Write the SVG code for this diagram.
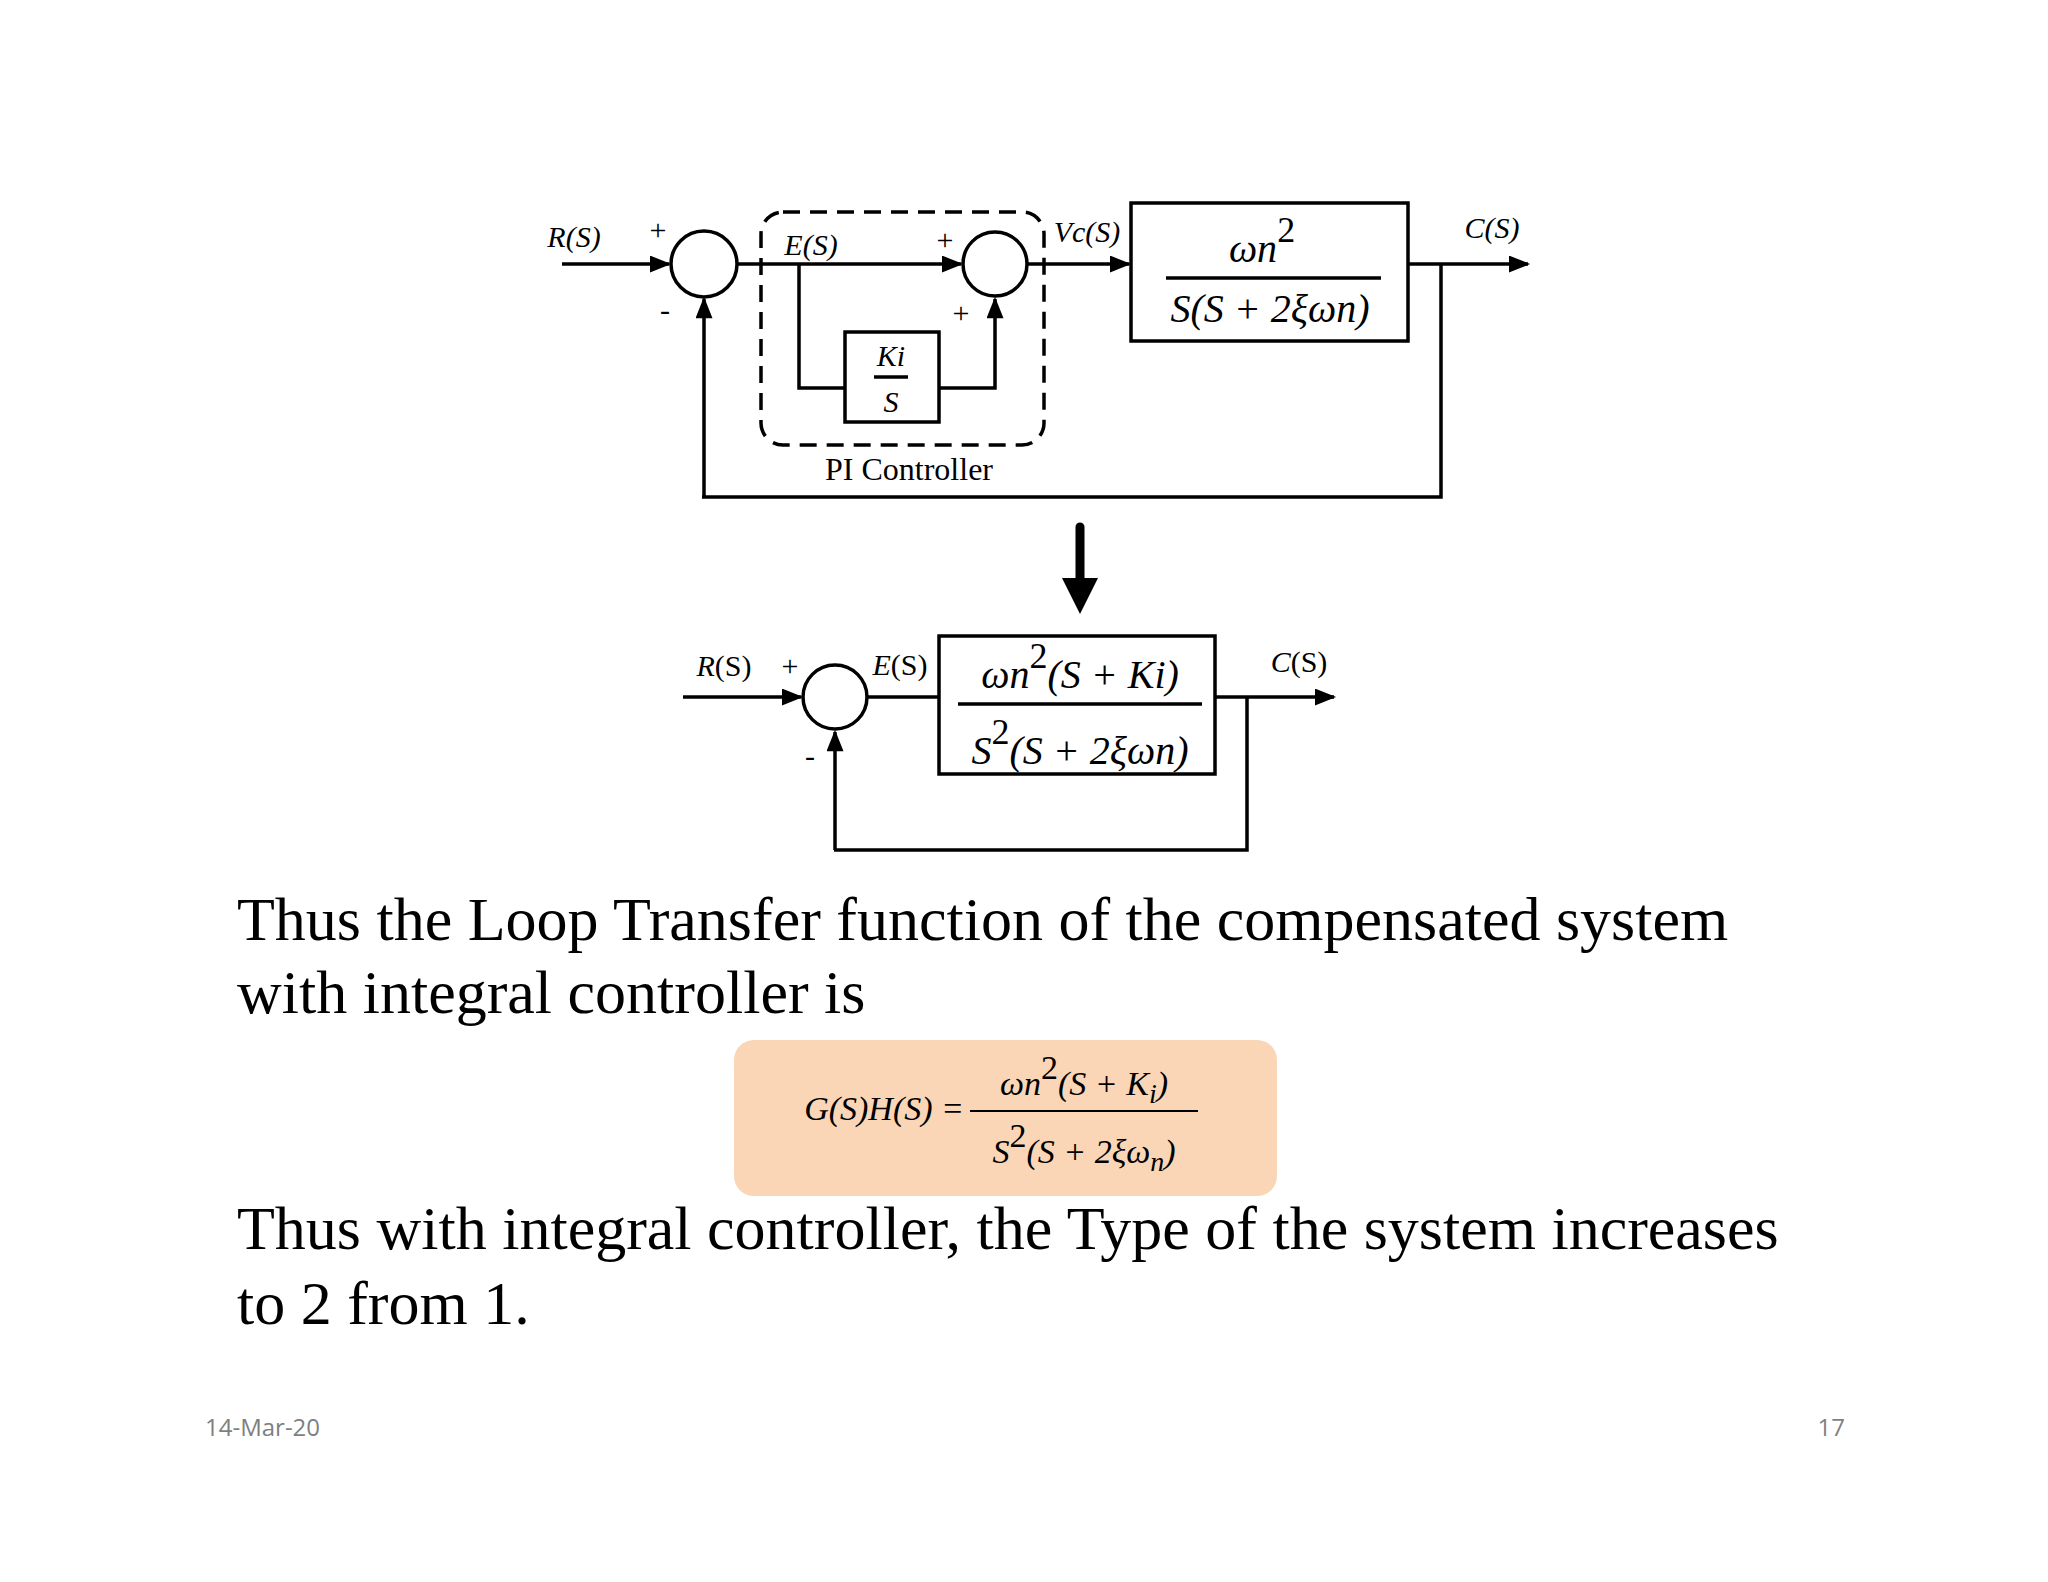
<svg xmlns="http://www.w3.org/2000/svg" width="2048" height="1582" viewBox="0 0 2048 1582">
<defs>
<marker id="ah2" viewBox="0 0 10 8" refX="9" refY="4" markerWidth="22" markerHeight="17" orient="auto" markerUnits="userSpaceOnUse"><path d="M0,0 L10,4 L0,8 z" fill="#000"/></marker>
</defs>
<style>
.l{stroke:#000;stroke-width:3.5;fill:none}
.b{stroke:#000;stroke-width:3.5;fill:#fff}
.t{font-family:"Liberation Serif","Times New Roman",serif;fill:#000}
.i{font-style:italic}
.body{font-family:"Liberation Serif","Times New Roman",serif;font-size:62px;fill:#000}
.ft{font-family:"Open Sans","Liberation Sans",sans-serif;font-size:24px;fill:#7f7f7f}
</style>
<rect width="2048" height="1582" fill="#fff"/>
<g id="connectors">
<line class="l" x1="562" y1="264" x2="669" y2="264" marker-end="url(#ah2)"/>
<line class="l" x1="737" y1="264" x2="961" y2="264" marker-end="url(#ah2)"/>
<polyline class="l" points="799,264 799,388 845,388"/>
<polyline class="l" points="939,388 995,388 995,299" marker-end="url(#ah2)"/>
<line class="l" x1="1027" y1="264" x2="1129" y2="264" marker-end="url(#ah2)"/>
<line class="l" x1="1408" y1="264" x2="1528" y2="264" marker-end="url(#ah2)"/>
<polyline class="l" points="1441,264 1441,497 702,497"/>
<line class="l" x1="704" y1="497" x2="704" y2="299" marker-end="url(#ah2)"/>
<line stroke="#000" stroke-width="9" stroke-linecap="round" x1="1080" y1="527" x2="1080" y2="590"/>
<path d="M1062,578 L1098,578 L1080,614 z" fill="#000"/>
<line class="l" x1="683" y1="697" x2="801" y2="697" marker-end="url(#ah2)"/>
<line class="l" x1="867" y1="697" x2="939" y2="697"/>
<line class="l" x1="1215" y1="697" x2="1334" y2="697" marker-end="url(#ah2)"/>
<polyline class="l" points="1247,697 1247,850 834,850"/>
<line class="l" x1="835" y1="850" x2="835" y2="732" marker-end="url(#ah2)"/>
</g>
<g id="pi-box"><rect x="761" y="212" width="283" height="233" rx="22" fill="none" stroke="#000" stroke-width="3.5" stroke-dasharray="17,10"/>
<text class="t" x="909" y="480" font-size="32" text-anchor="middle">PI Controller</text></g>
<g id="sum1"><circle class="b" cx="704" cy="264" r="33"/></g>
<g id="sum2"><circle class="b" cx="995" cy="264" r="32"/></g>
<g id="ki"><rect class="b" x="845" y="332" width="94" height="90"/>
<text class="t i" x="891" y="366" font-size="30" text-anchor="middle">Ki</text>
<line class="l" x1="874" y1="377" x2="908" y2="377" stroke-width="2"/>
<text class="t i" x="891" y="412" font-size="30" text-anchor="middle">S</text></g>
<g id="plant"><rect class="b" x="1131" y="203" width="277" height="138"/>
<text class="t i" x="1262" y="262" font-size="40" text-anchor="middle">ωn<tspan dy="-20" font-size="36" font-style="normal">2</tspan></text>
<line class="l" x1="1166" y1="278" x2="1381" y2="278" stroke-width="2"/>
<text class="t i" x="1270" y="322" font-size="40" text-anchor="middle">S(S + 2ξωn)</text></g>
<g id="labels1" class="t i" font-size="30">
<text x="574" y="247" text-anchor="middle">R(S)</text>
<text x="658" y="240" text-anchor="middle" font-style="normal">+</text>
<text x="665" y="320" text-anchor="middle" font-style="normal">-</text>
<text x="811" y="255" text-anchor="middle">E(S)</text>
<text x="945" y="250" text-anchor="middle" font-style="normal">+</text>
<text x="961" y="323" text-anchor="middle" font-style="normal">+</text>
<text x="1087" y="242" text-anchor="middle">Vc(S)</text>
<text x="1492" y="238" text-anchor="middle">C(S)</text>
</g>
<g id="sum3"><circle class="b" cx="835" cy="697" r="32"/></g>
<g id="g2"><rect class="b" x="939" y="636" width="276" height="138"/>
<text class="t i" x="1080" y="688" font-size="40" text-anchor="middle">ωn<tspan dy="-20" font-size="36" font-style="normal">2</tspan><tspan dy="20">(S + Ki)</tspan></text>
<line class="l" x1="958" y1="704" x2="1202" y2="704" stroke-width="2"/>
<text class="t i" x="1080" y="764" font-size="40" text-anchor="middle">S<tspan dy="-20" font-size="36" font-style="normal">2</tspan><tspan dy="20">(S + 2ξωn)</tspan></text></g>
<g id="labels2" class="t" font-size="30">
<text x="724" y="676" text-anchor="middle"><tspan font-style="italic">R</tspan>(S)</text>
<text x="790" y="676" text-anchor="middle">+</text>
<text x="810" y="766" text-anchor="middle">-</text>
<text x="900" y="675" text-anchor="middle"><tspan font-style="italic">E</tspan>(S)</text>
<text x="1299" y="672" text-anchor="middle"><tspan font-style="italic">C</tspan>(S)</text>
</g>
<text class="body" x="237" y="940">Thus the Loop Transfer function of the compensated system</text>
<text class="body" x="237" y="1013">with integral controller is</text>
<g id="formula"><rect x="734" y="1040" width="543" height="156" rx="20" fill="#fad6b6"/>
<text class="t i" x="964" y="1120" font-size="34" text-anchor="end">G(S)H(S) =</text>
<line stroke="#000" stroke-width="2" x1="970" y1="1111" x2="1198" y2="1111"/>
<text class="t i" x="1084" y="1095" font-size="34" text-anchor="middle">ωn<tspan dy="-16" font-style="normal">2</tspan><tspan dy="16">(S + K</tspan><tspan dy="8" font-size="28">i</tspan><tspan dy="-8">)</tspan></text>
<text class="t i" x="1084" y="1163" font-size="34" text-anchor="middle">S<tspan dy="-16" font-style="normal">2</tspan><tspan dy="16">(S + 2ξω</tspan><tspan dy="8" font-size="28">n</tspan><tspan dy="-8">)</tspan></text></g>
<text class="body" x="237" y="1249">Thus with integral controller, the Type of the system increases</text>
<text class="body" x="237" y="1324">to 2 from 1.</text>
<text class="ft" x="205" y="1436">14-Mar-20</text>
<text class="ft" x="1845" y="1436" text-anchor="end">17</text>
</svg>
